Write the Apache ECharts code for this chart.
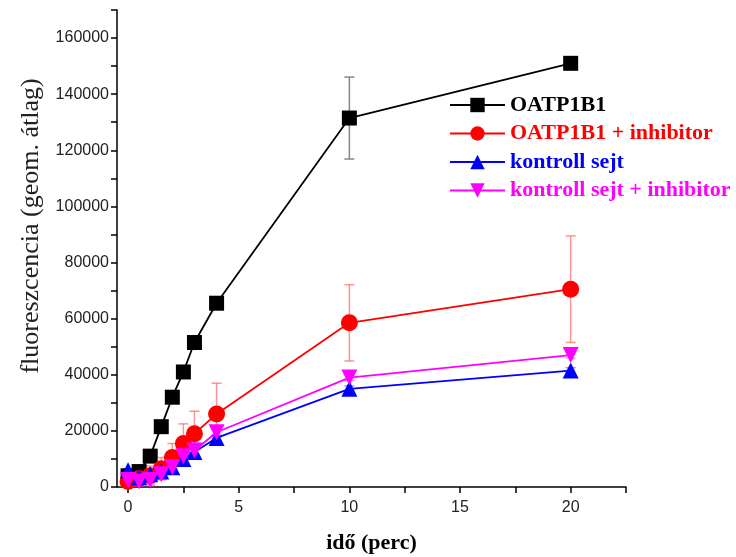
<!DOCTYPE html>
<html>
<head>
<meta charset="utf-8">
<script src="https://cdn.jsdelivr.net/npm/echarts@6/dist/echarts.min.js"></script>
<style>
  html, body { margin: 0; padding: 0; background: #fff; }
  #chart { width: 736px; height: 557px; }
</style>
</head>
<body>
<div id="chart"></div>
<script>
// idő (perc)
const times = [0, 0.5, 1, 1.5, 2, 2.5, 3, 4, 10, 20];

const oatp = [4000, 5500, 11000, 21500, 32000, 41000, 51500, 65500, 131500, 151000];
const oatpErr = [800, 800, 1000, 1200, 1200, 1200, 1300, 1500, 14600, 1500];

const oatpInh = [2000, 3000, 4000, 6500, 10500, 15500, 19000, 26000, 58500, 70500];
const oatpInhErr = [1500, 2500, 3500, 4000, 5000, 7000, 8000, 11000, 13600, 19000];

const ctrl = [6000, 3500, 4500, 5500, 7000, 10000, 12500, 17500, 35000, 41500];
const ctrlErr = [500, 500, 500, 600, 700, 800, 1000, 1000, 1000, 1000];

const ctrlInh = [2500, 2000, 2500, 4500, 7000, 11000, 13000, 19500, 39000, 47000];
const ctrlInhErr = [800, 1500, 1500, 1500, 2000, 2500, 3000, 1500, 1000, 1000];

const xTicks = [0, 2.5, 5, 7.5, 10, 12.5, 15, 17.5, 20, 22.5];
const xLabels = [0, 5, 10, 15, 20];

const names = ['OATP1B1', 'OATP1B1 + inhibitor', 'kontroll sejt', 'kontroll sejt + inhibitor'];
const colors = ['#000000', '#ff0000', '#0000ff', '#ff00ff'];
const errColors = ['#888888', 'rgba(255,90,90,0.65)', 'rgba(80,80,255,0.6)', 'rgba(255,80,255,0.7)'];

const chart = echarts.init(document.getElementById('chart'));

function errSeries(vals, errs, color) {
  return {
    type: 'custom',
    silent: true,
    z: 1,
    data: times.map((t, i) => [t, vals[i] - errs[i], vals[i] + errs[i]]),
    renderItem: function (params, api) {
      const x = api.value(0);
      const lo = api.coord([x, api.value(1)]);
      const hi = api.coord([x, api.value(2)]);
      const w = 5;
      const st = { stroke: color, lineWidth: 1.5 };
      return {
        type: 'group',
        children: [
          { type: 'line', shape: { x1: lo[0], y1: lo[1], x2: hi[0], y2: hi[1] }, style: st },
          { type: 'line', shape: { x1: hi[0] - w, y1: hi[1], x2: hi[0] + w, y2: hi[1] }, style: st },
          { type: 'line', shape: { x1: lo[0] - w, y1: lo[1], x2: lo[0] + w, y2: lo[1] }, style: st }
        ]
      };
    }
  };
}

function lineSeries(name, vals, color, symbol, size, rotate) {
  return {
    name: name,
    type: 'line',
    z: 2,
    data: times.map((t, i) => [t, vals[i]]),
    symbol: symbol,
    symbolSize: size,
    symbolRotate: rotate || 0,
    showAllSymbol: true,
    lineStyle: { color: color, width: 1.8 },
    itemStyle: { color: color }
  };
}

const option = {
  animation: false,
  grid: { left: 117, right: 110, top: 10, bottom: 70, outerBoundsMode: 'none' },
  legend: {
    orient: 'vertical',
    left: 444,
    top: 89,
    itemWidth: 55,
    itemHeight: 18,
    itemGap: 6.5,
    data: names.map((n, i) => ({
      name: n,
      textStyle: { color: colors[i] }
    })),
    textStyle: {
      fontFamily: 'Liberation Serif',
      fontWeight: 'bold',
      fontSize: 22
    }
  },
  xAxis: {
    type: 'value',
    min: -0.5,
    max: 22.5,
    name: 'idő (perc)',
    nameLocation: 'middle',
    nameGap: 45,
    nameTextStyle: { fontFamily: 'Liberation Serif', fontWeight: 'bold', fontSize: 22, color: '#000' },
    axisLine: { onZero: false, lineStyle: { color: '#000', width: 1.5 } },
    axisTick: { customValues: xTicks, length: 6, lineStyle: { color: '#000', width: 1.5 } },
    axisLabel: { customValues: xLabels, fontFamily: 'Liberation Sans', fontSize: 16, color: '#222', margin: 13 },
    splitLine: { show: false }
  },
  yAxis: {
    type: 'value',
    min: 0,
    max: 170000,
    interval: 10000,
    name: 'fluoreszcencia (geom. átlag)',
    nameLocation: 'middle',
    nameGap: 73,
    nameTextStyle: { fontFamily: 'Liberation Serif', fontSize: 26, color: '#222', padding: [0, 0, 0, 45] },
    axisLine: { show: true, onZero: false, lineStyle: { color: '#000', width: 1.5 } },
    axisTick: { show: true, length: 6, lineStyle: { color: '#000', width: 1.5 } },
    axisLabel: {
      fontFamily: 'Liberation Sans',
      fontSize: 16,
      color: '#222',
      margin: 8,
      formatter: function (v) { return (v % 20000 === 0 && v <= 160000) ? String(v) : ''; }
    },
    splitLine: { show: false }
  },
  series: [
    errSeries(oatp, oatpErr, errColors[0]),
    errSeries(oatpInh, oatpInhErr, errColors[1]),
    errSeries(ctrl, ctrlErr, errColors[2]),
    errSeries(ctrlInh, ctrlInhErr, errColors[3]),
    lineSeries(names[0], oatp, colors[0], 'rect', 15),
    lineSeries(names[1], oatpInh, colors[1], 'circle', 17),
    lineSeries(names[2], ctrl, colors[2], 'triangle', 16),
    lineSeries(names[3], ctrlInh, colors[3], 'triangle', 16, 180)
  ]
};

chart.setOption(option);
</script>
</body>
</html>
